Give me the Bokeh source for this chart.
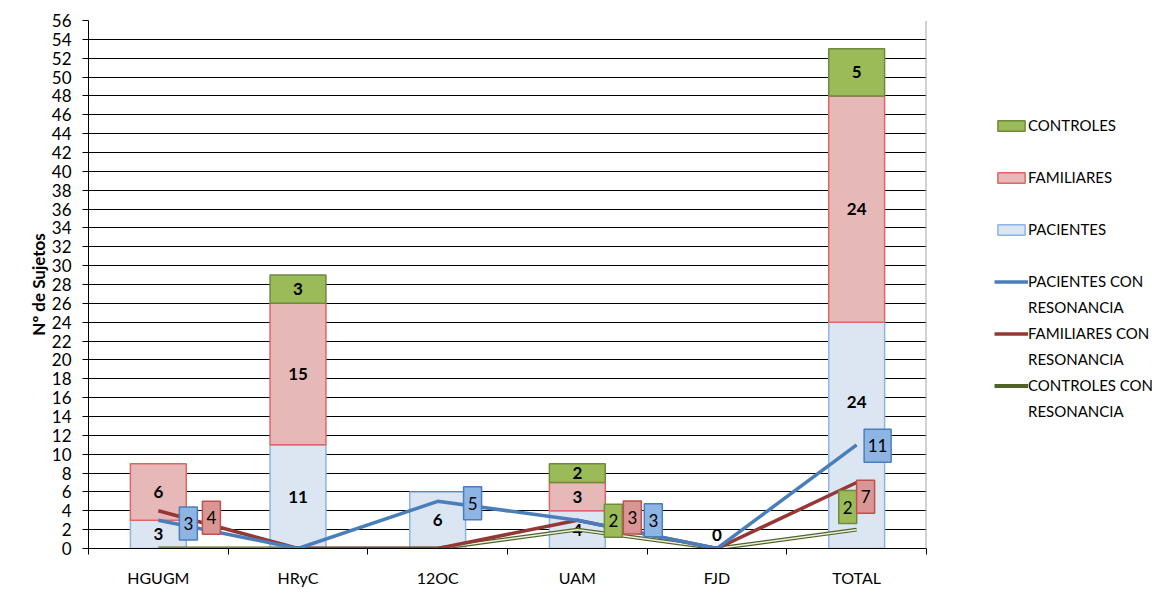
from bokeh.plotting import figure
from bokeh.models import Range1d, FixedTicker, Legend, LegendItem, Span
from bokeh.core.properties import value
from bokeh.embed import file_html
from bokeh.resources import INLINE

# ---------------- data ----------------
categories = ["HGUGM", "HRyC", "12OC", "UAM", "FJD", "TOTAL"]
pacientes = [3, 11, 6, 4, 0, 24]
familiares = [6, 15, 0, 3, 0, 24]
controles = [0, 3, 0, 2, 0, 5]
pacientes_res = [3, 0, 5, 3, 0, 11]
familiares_res = [4, 0, 0, 3, 0, 7]
controles_res = [0, 0, 0, 2, 0, 2]
y_ticks = list(range(0, 57, 2))

# label placement (offsets from the point, in data units) - styling only
pac_lab_dx = [0.215, None, 0.25, 0.544, None, 0.15]
pac_lab_dy = [-0.35, None, -0.2, 0.0, None, -0.1]
fam_lab_dx = [0.38, None, None, 0.394, None, 0.064]
fam_lab_dy = [-0.74, None, None, 0.3, None, -1.5]
ctl_lab_dx = [None, None, None, 0.258, None, -0.064]
ctl_lab_dy = [None, None, None, 0.95, None, 2.4]
pac_bar_lab_shift = [0, 0, 0, 0, 1.4, 3.5]

FONT = "Lato"
n = len(categories)
xc = [i + 0.5 for i in range(n)]

p = figure(frame_width=838, frame_height=528,
           min_border_left=88, min_border_right=226, min_border_top=20, min_border_bottom=40,
           x_range=Range1d(0, n), y_range=Range1d(0, 56),
           output_backend="svg", toolbar_location=None)
p.background_fill_color = "white"
p.border_fill_color = "white"
p.outline_line_color = None

# ---------------- axes ----------------
p.yaxis.ticker = FixedTicker(ticks=y_ticks)
p.yaxis.major_tick_out = 6
p.yaxis.major_tick_in = 0
p.yaxis.minor_tick_line_color = None
p.yaxis.major_label_standoff = 11
p.yaxis.axis_line_color = "black"
p.yaxis.major_tick_line_color = "black"
p.yaxis.major_label_text_font = FONT
p.yaxis.major_label_text_font_size = "17px"
p.yaxis.major_label_text_color = "black"
p.yaxis.axis_label = "Nº de Sujetos"
p.yaxis.axis_label_text_font = FONT
p.yaxis.axis_label_text_font_style = "bold"
p.yaxis.axis_label_text_font_size = "17px"
p.yaxis.axis_label_text_color = "black"
p.yaxis.axis_label_standoff = 0

p.xaxis.ticker = FixedTicker(ticks=xc, minor_ticks=list(range(0, n + 1)))
p.xaxis.major_label_overrides = {xv: c for xv, c in zip(xc, categories)}
p.xaxis.major_tick_out = 0
p.xaxis.major_tick_in = 0
p.xaxis.minor_tick_out = 6
p.xaxis.minor_tick_in = 0
p.xaxis.minor_tick_line_color = "black"
p.xaxis.axis_line_color = "black"
p.xaxis.major_label_standoff = 13
p.xaxis.major_label_text_font = FONT
p.xaxis.major_label_text_font_size = "16px"
p.xaxis.major_label_text_color = "black"

p.xgrid.visible = False
p.ygrid.ticker = FixedTicker(ticks=y_ticks)
p.ygrid.grid_line_color = "black"
p.ygrid.grid_line_width = 1.2

p.add_layout(Span(location=n, dimension="height", line_color="#A6A6A6", line_width=2))

# ---------------- stacked bars ----------------
fam_bottom = pacientes
ctl_bottom = [a + b for a, b in zip(pacientes, familiares)]

def bar(vals, bottoms, fill, line):
    xs = [x for x, v in zip(xc, vals) if v > 0]
    bs = [b for b, v in zip(bottoms, vals) if v > 0]
    ts = [b + v for b, v in zip(bottoms, vals) if v > 0]
    return p.vbar(x=xs, bottom=bs, top=ts, width=0.4, fill_color=fill,
                  line_color=line, line_width=1.5)

r_pac = bar(pacientes, [0] * n, "#DCE6F2", "#8DB4E2")
r_fam = bar(familiares, fam_bottom, "#E6B9B8", "#E06666")
r_ctl = bar(controles, ctl_bottom, "#9BBB59", "#71893F")

# bar labels
lx, ly, lt = [], [], []
for i in range(n):
    lx.append(xc[i]); ly.append(pacientes[i] / 2 + pac_bar_lab_shift[i]); lt.append(str(pacientes[i]))
    if familiares[i] > 0:
        lx.append(xc[i]); ly.append(fam_bottom[i] + familiares[i] / 2); lt.append(str(familiares[i]))
    if controles[i] > 0:
        lx.append(xc[i]); ly.append(ctl_bottom[i] + controles[i] / 2); lt.append(str(controles[i]))
p.text(x=lx, y=ly, text=lt, text_align="center", text_baseline="middle",
       text_font=value(FONT), text_font_style="bold", text_font_size="17px", text_color="black")

# ---------------- lines ----------------
r_ctl_line = p.line(xc, controles_res, line_color="#4F6228", line_width=4)
p.line(xc, controles_res, line_color="#EBF1DE", line_width=1.5)
r_fam_line = p.line(xc, familiares_res, line_color="#953735", line_width=3.5)
r_pac_line = p.line(xc, pacientes_res, line_color="#4A7EBB", line_width=3.5)

def line_labels(vals, dxs, dys, fill, line):
    xs, ys, ts, ws = [], [], [], []
    for i in range(n):
        if dxs[i] is None:
            continue
        xs.append(xc[i] + dxs[i]); ys.append(vals[i] + dys[i]); ts.append(str(vals[i]))
        ws.append(9 + 9 * len(str(vals[i])))
    p.rect(x=xs, y=ys, width=ws, height=33, width_units="screen", height_units="screen",
           fill_color=fill, line_color=line, line_width=1.5)
    p.text(x=xs, y=ys, text=ts, text_align="center", text_baseline="middle",
           text_font=value(FONT), text_font_size="17px", text_color="black")

line_labels(controles_res, ctl_lab_dx, ctl_lab_dy, "#9BBB59", "#71893F")
line_labels(familiares_res, fam_lab_dx, fam_lab_dy, "#D99694", "#C0504D")
line_labels(pacientes_res, pac_lab_dx, pac_lab_dy, "#8EB4E3", "#4A7EBB")

# ---------------- legend ----------------
blank = p.line(x=[], y=[], line_alpha=0)

def item(lbl, r):
    return LegendItem(label=value(lbl), renderers=[r])

items = [
    item("CONTROLES", r_ctl), item(" ", blank),
    item("FAMILIARES", r_fam), item(" ", blank),
    item("PACIENTES", r_pac), item(" ", blank),
    item("PACIENTES CON", r_pac_line), item("RESONANCIA", blank),
    item("FAMILIARES CON", r_fam_line), item("RESONANCIA", blank),
    item("CONTROLES CON", r_ctl_line), item("RESONANCIA", blank),
]
legend = Legend(items=items, location=(68, 126), border_line_color=None,
                background_fill_alpha=0, padding=0, margin=0, spacing=4,
                label_height=22, glyph_height=13, glyph_width=34, label_standoff=0,
                label_text_font=FONT, label_text_font_size="15px", label_text_color="black")
p.add_layout(legend, "right")

open("out.html", "w").write(file_html(p, INLINE))
